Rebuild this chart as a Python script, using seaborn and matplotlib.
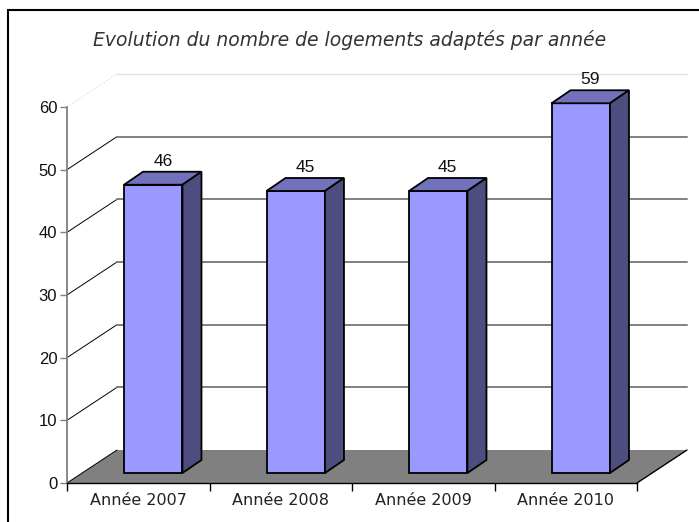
import matplotlib
matplotlib.use("Agg")
import matplotlib.pyplot as plt
import seaborn as sns
import pandas as pd
from matplotlib.patches import Polygon, Rectangle
from matplotlib.transforms import ScaledTranslation

# data
years = ["Année 2007", "Année 2008", "Année 2009", "Année 2010"]
counts = [46, 45, 45, 59]
yticks = [0, 10, 20, 30, 40, 50, 60]
title = "Evolution du nombre de logements adaptés par année"

front_col = "#9999FF"
top_col = "#7171BC"
side_col = "#4D4D80"
floor_col = "#808080"

W, H = 699, 522
AX_L, AX_R, AX_B, AX_T = 67, 637, 483, 107   # pixel frame of the front plane


def main():
    sns.set_style("white")
    plt.rcParams["font.family"] = ["DejaVu Sans"]
    fig = plt.figure(figsize=(W / 100, H / 100), dpi=100)
    ax = fig.add_axes([AX_L / W, (H - AX_B) / H, (AX_R - AX_L) / W, (AX_B - AX_T) / H])
    ax.set_xlim(-0.5, 3.5)
    ax.set_ylim(0, 60)
    ax.patch.set_alpha(0)

    px_x = (AX_R - AX_L) / 4.0       # pixels per category
    px_y = (AX_B - AX_T) / 60.0      # pixels per unit

    # wall depth and bar depth (in pixels) converted to data units
    wdx, wdy = 50 / px_x, 33 / px_y
    bdx, bdy = 19 / px_x, 13 / px_y

    # floor
    floor = Polygon([(-0.5, 0), (3.5, 0), (3.5 + wdx, wdy), (-0.5 + wdx, wdy)],
                    closed=True, fc=floor_col, ec="none", zorder=0.5, clip_on=False)
    ax.add_patch(floor)
    ax.plot([3.5, 3.5 + wdx], [0, wdy], color="black", lw=1, zorder=0.6, clip_on=False)

    # side wall diagonals and back wall gridlines
    for v in yticks:
        if v == 60:
            ax.plot([-0.5, -0.5 + wdx], [v, v + wdy], color="#D8D8D8", lw=0.8,
                    ls=":", clip_on=False, zorder=0.6)
            ax.plot([-0.5 + wdx, 3.5 + wdx], [v + wdy, v + wdy], color="#E2E2E2",
                    lw=1, clip_on=False, zorder=0.6)
            continue
        ax.plot([-0.5, -0.5 + wdx], [v, v + wdy], color="black", lw=0.7,
                clip_on=False, zorder=0.6)
        if v > 0:
            ax.plot([-0.5 + wdx, 3.5 + wdx], [v + wdy, v + wdy], color="#808080",
                    lw=1.4, clip_on=False, zorder=0.6)

    # bars
    df = pd.DataFrame({"annee": years, "logements": counts})
    sns.barplot(data=df, x="annee", y="logements", color=front_col, saturation=1,
                width=0.41, edgecolor="black", linewidth=1.3, ax=ax, zorder=2)
    shift = ax.transData + ScaledTranslation(0.15, 0.10, fig.dpi_scale_trans)
    for bar, v in zip(ax.patches[1:], counts):
        bar.set_transform(shift)
        bar.set_clip_on(False)
        x0 = bar.get_x()
        x1 = x0 + bar.get_width()
        h = bar.get_height()
        top = Polygon([(x0, h), (x1, h), (x1 + bdx, h + bdy), (x0 + bdx, h + bdy)],
                      closed=True, fc=top_col, ec="black", lw=1.3,
                      transform=shift, zorder=2.1, clip_on=False)
        side = Polygon([(x1, 0), (x1, h), (x1 + bdx, h + bdy), (x1 + bdx, bdy)],
                       closed=True, fc=side_col, ec="black", lw=1.3,
                       transform=shift, zorder=2.1, clip_on=False)
        ax.add_patch(top)
        ax.add_patch(side)
        ax.text(x0 + (x1 - x0) / 2 + bdx / 2, h + bdy + 0.5, str(v), transform=shift,
                ha="center", va="bottom", fontsize=12.5, family="Liberation Sans",
                color="#111111", zorder=3)

    # axes
    for s in ["top", "right"]:
        ax.spines[s].set_visible(False)
    ax.spines["left"].set_color("#808080")
    ax.spines["left"].set_linewidth(1.3)
    ax.spines["bottom"].set_color("black")
    ax.spines["bottom"].set_linewidth(1)
    ax.spines["left"].set_zorder(0.7)
    ax.set_yticks(yticks)
    ax.set_yticklabels([str(t) for t in yticks], family="Liberation Sans", fontsize=12)
    ax.tick_params(axis="y", left=True, length=5, width=1, color="#808080", pad=2,
                   labelcolor="#111111")
    ax.set_xticks(range(len(years)))
    ax.set_xticklabels(years, fontsize=11.5, color="#222222")
    ax.tick_params(axis="x", which="major", bottom=False, length=0, pad=7)
    ax.set_xticks([-0.5, 0.5, 1.5, 2.5, 3.5], minor=True)
    ax.tick_params(axis="x", which="minor", bottom=True, length=6, width=1, color="black")
    ax.set_xlabel("")
    ax.set_ylabel("")

    fig.text(350 / W, 1 - 40 / H, title, ha="center", va="center", fontsize=13.5,
             style="italic", color="#333333")

    border = Rectangle((8 / W, -0.1), 1.0, 1.1 - 10 / H, transform=fig.transFigure,
                       fill=False, ec="black", lw=1.5)
    fig.add_artist(border)

    fig.savefig("out.png", dpi=100)


if __name__ == "__main__":
    main()
